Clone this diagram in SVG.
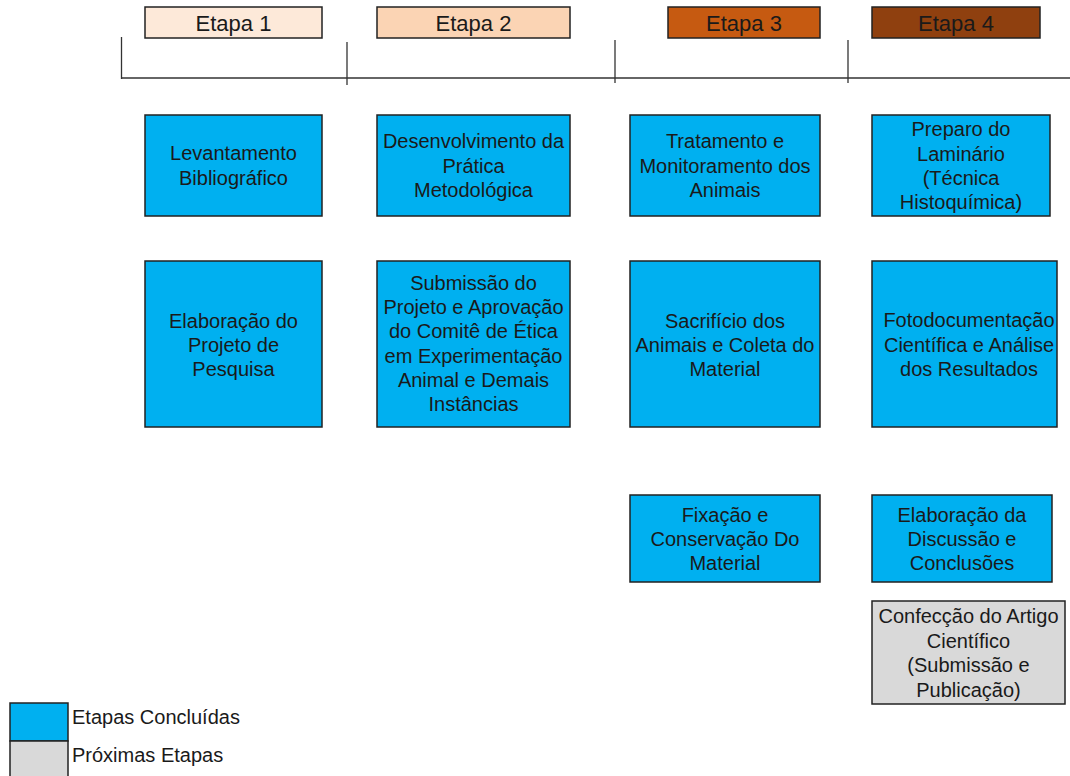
<svg xmlns="http://www.w3.org/2000/svg" width="1070" height="776" viewBox="0 0 1070 776">
<style>
.bg{fill:#fff}
.blue{fill:#00B0F0;stroke:#222;stroke-width:1.5}
.gray{fill:#D9D9D9;stroke:#222;stroke-width:1.5}
.hdr{stroke:#222;stroke-width:1.5}
.t{font-family:"Liberation Sans",Arial,sans-serif;font-size:20px;fill:#1a1a1a;text-anchor:middle}
.h{font-family:"Liberation Sans",Arial,sans-serif;font-size:22px;fill:#1a1a1a;text-anchor:middle}
.l{font-family:"Liberation Sans",Arial,sans-serif;font-size:20px;fill:#1a1a1a}
.ln{stroke:#333;stroke-width:1.3;fill:none}
</style>
<rect class="bg" x="0" y="0" width="1070" height="776"/>
<g id="timeline">
<line class="ln" x1="121" y1="78" x2="1070" y2="78"/>
<line class="ln" x1="121.5" y1="37" x2="121.5" y2="79"/>
<line class="ln" x1="347" y1="42" x2="347" y2="85"/>
<line class="ln" x1="615" y1="40" x2="615" y2="83"/>
<line class="ln" x1="848" y1="40" x2="848" y2="83"/>
</g>
<g id="etapa1"><rect class="hdr" x="145" y="7" width="177" height="31" fill="#FDE9D9"/><text class="h" x="233.5" y="30.5">Etapa 1</text></g>
<g id="etapa2"><rect class="hdr" x="377" y="7" width="193" height="31" fill="#FBD4B4"/><text class="h" x="473.5" y="30.5">Etapa 2</text></g>
<g id="etapa3"><rect class="hdr" x="668" y="7" width="152" height="31" fill="#C65A11"/><text class="h" x="744" y="30.5">Etapa 3</text></g>
<g id="etapa4"><rect class="hdr" x="872" y="7" width="168" height="31" fill="#8F400F"/><text class="h" x="956" y="30.5">Etapa 4</text></g>

<g id="levantamento"><rect class="blue" x="145" y="115" width="177" height="101"/>
<text class="t" x="233.5" y="160">Levantamento</text><text class="t" x="233.5" y="185">Bibliográfico</text></g>
<g id="desenvolvimento"><rect class="blue" x="377" y="115" width="193" height="101"/>
<text class="t" x="473.5" y="148">Desenvolvimento da</text><text class="t" x="473.5" y="173">Prática</text><text class="t" x="473.5" y="197">Metodológica</text></g>
<g id="tratamento"><rect class="blue" x="630" y="115" width="190" height="101"/>
<text class="t" x="725" y="148">Tratamento e</text><text class="t" x="725" y="173">Monitoramento dos</text><text class="t" x="725" y="197">Animais</text></g>
<g id="preparo"><rect class="blue" x="872" y="115" width="178" height="101"/>
<text class="t" x="961" y="136">Preparo do</text><text class="t" x="961" y="161">Laminário</text><text class="t" x="961" y="185">(Técnica</text><text class="t" x="961" y="209">Histoquímica)</text></g>

<g id="elaboracao-projeto"><rect class="blue" x="145" y="261" width="177" height="166"/>
<text class="t" x="233.5" y="328">Elaboração do</text><text class="t" x="233.5" y="352">Projeto de</text><text class="t" x="233.5" y="376">Pesquisa</text></g>
<g id="submissao"><rect class="blue" x="377" y="261" width="193" height="166"/>
<text class="t" x="473.5" y="290">Submissão do</text><text class="t" x="473.5" y="314">Projeto e Aprovação</text><text class="t" x="473.5" y="338">do Comitê de Ética</text><text class="t" x="473.5" y="363">em Experimentação</text><text class="t" x="473.5" y="387">Animal e Demais</text><text class="t" x="473.5" y="411">Instâncias</text></g>
<g id="sacrificio"><rect class="blue" x="630" y="261" width="190" height="166"/>
<text class="t" x="725" y="328">Sacrifício dos</text><text class="t" x="725" y="352">Animais e Coleta do</text><text class="t" x="725" y="376">Material</text></g>
<g id="fotodocumentacao"><rect class="blue" x="872" y="261" width="185" height="166"/>
<text class="t" x="969" y="327">Fotodocumentação</text><text class="t" x="969" y="352">Científica e Análise</text><text class="t" x="969" y="376">dos Resultados</text></g>

<g id="fixacao"><rect class="blue" x="630" y="495" width="190" height="87"/>
<text class="t" x="725" y="522">Fixação e</text><text class="t" x="725" y="546">Conservação Do</text><text class="t" x="725" y="570">Material</text></g>
<g id="discussao"><rect class="blue" x="872" y="495" width="180" height="87"/>
<text class="t" x="962" y="522">Elaboração da</text><text class="t" x="962" y="546">Discussão e</text><text class="t" x="962" y="570">Conclusões</text></g>
<g id="artigo"><rect class="gray" x="872" y="601" width="193" height="103"/>
<text class="t" x="968.5" y="623">Confecção do Artigo</text><text class="t" x="968.5" y="648">Científico</text><text class="t" x="968.5" y="672">(Submissão e</text><text class="t" x="968.5" y="697">Publicação)</text></g>

<g id="legend">
<rect class="blue" x="10" y="703" width="58" height="38"/>
<rect class="gray" x="10" y="741" width="58" height="40"/>
<text class="l" x="72" y="724">Etapas Concluídas</text>
<text class="l" x="72" y="762">Próximas Etapas</text>
</g>
<g id="connectors"></g>
</svg>
